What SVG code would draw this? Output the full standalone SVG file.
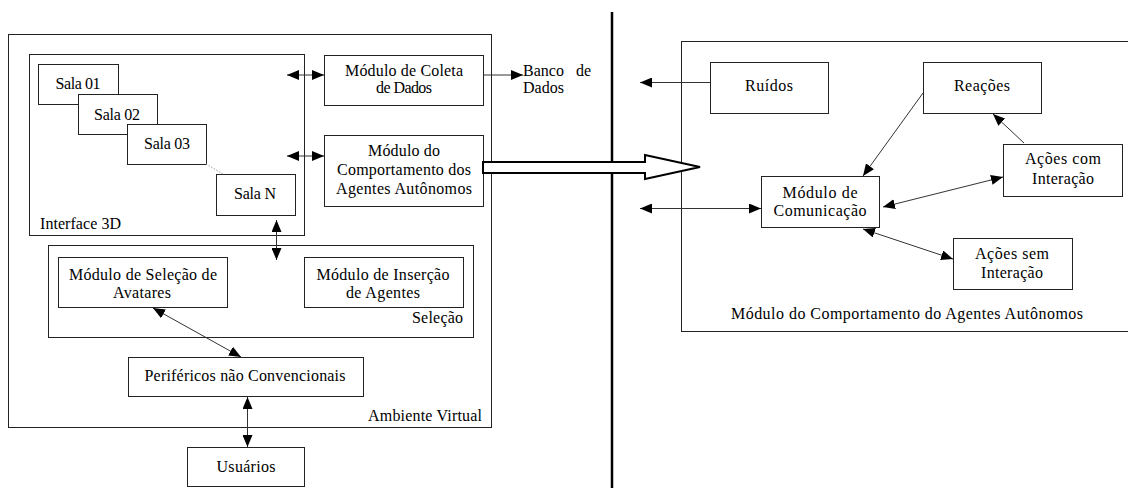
<svg xmlns="http://www.w3.org/2000/svg" width="1128" height="488" viewBox="0 0 1128 488" font-family="'Liberation Serif', 'DejaVu Serif', serif" font-size="16">
  <style>
    .box { fill: #fff; stroke: #222; stroke-width: 1; }
    .frame { fill: none; stroke: #222; stroke-width: 1; }
    text { font-family: 'Liberation Serif', 'DejaVu Serif', serif; font-size: 16px; fill: #000; }
    .c { text-anchor: middle; }
    .r { text-anchor: end; }
    .link { fill: none; stroke: #333; stroke-width: 1; }
  </style>
  <defs>
    <marker id="ah" viewBox="0 0 12 10" refX="12" refY="5" markerWidth="12" markerHeight="10" orient="auto-start-reverse" markerUnits="userSpaceOnUse">
      <path d="M0,0 L12,5 L0,10 z" fill="#000"/>
    </marker>
  </defs>
  <rect width="1128" height="488" fill="#fff"/>

  <!-- left side: virtual environment -->
  <g id="ambiente-virtual">
    <rect class="frame" x="8.5" y="34.5" width="483" height="393"/>
    <text class="r" x="482" y="421" textLength="114">Ambiente Virtual</text>
  </g>
  <g id="interface-3d">
    <rect class="frame" x="29.5" y="54.5" width="275" height="181"/>
    <text x="40" y="229" textLength="81">Interface 3D</text>
  </g>
  <g id="sala-01">
    <rect class="box" x="38.5" y="64.5" width="80" height="40"/>
    <text class="c" x="78" y="89" textLength="45">Sala 01</text>
  </g>
  <g id="sala-02">
    <rect class="box" x="78.5" y="94.5" width="79" height="40"/>
    <text class="c" x="117" y="120" textLength="46">Sala 02</text>
  </g>
  <g id="sala-03">
    <rect class="box" x="127.5" y="124.5" width="79" height="40"/>
    <text class="c" x="167" y="149" textLength="46">Sala 03</text>
  </g>
  <g id="sala-n">
    <rect class="box" x="216.5" y="174.5" width="79" height="41"/>
    <text class="c" x="255" y="199" textLength="42">Sala N</text>
  </g>
  <g id="modulo-coleta">
    <rect class="box" x="324.5" y="55.5" width="159" height="50"/>
    <text class="c" x="404" y="76" textLength="118">Módulo de Coleta</text>
    <text class="c" x="404" y="93" textLength="56">de Dados</text>
  </g>
  <g id="banco-de-dados">
    <text x="523" y="76">Banco</text>
    <text x="576" y="76">de</text>
    <text x="523" y="93">Dados</text>
  </g>
  <g id="modulo-comportamento">
    <rect class="box" x="324.5" y="135.5" width="159" height="71"/>
    <text class="c" x="404" y="156" textLength="72">Módulo do</text>
    <text class="c" x="404" y="175" textLength="134">Comportamento dos</text>
    <text class="c" x="404" y="194" textLength="136">Agentes Autônomos</text>
  </g>
  <g id="selecao">
    <rect class="frame" x="48.5" y="245.5" width="425" height="92"/>
    <text class="r" x="463" y="323" textLength="51">Seleção</text>
  </g>
  <g id="modulo-selecao-avatares">
    <rect class="box" x="58.5" y="257.5" width="169" height="50"/>
    <text class="c" x="143" y="280" textLength="148">Módulo de Seleção de</text>
    <text class="c" x="142" y="298" textLength="58">Avatares</text>
  </g>
  <g id="modulo-insercao-agentes">
    <rect class="box" x="304.5" y="257.5" width="159" height="50"/>
    <text class="c" x="383" y="280" textLength="133">Módulo de Inserção</text>
    <text class="c" x="383" y="298" textLength="74">de Agentes</text>
  </g>
  <g id="perifericos">
    <rect class="box" x="128.5" y="357.5" width="235" height="39"/>
    <text class="c" x="245" y="381" textLength="201">Periféricos não Convencionais</text>
  </g>
  <g id="usuarios">
    <rect class="box" x="187.5" y="447.5" width="117" height="39"/>
    <text class="c" x="246" y="472" textLength="59">Usuários</text>
  </g>

  <!-- right side: agent behaviour module -->
  <g id="comportamento-agentes">
    <rect class="frame" x="681.5" y="41.5" width="460" height="290"/>
    <text class="c" x="907" y="319" textLength="352">Módulo do Comportamento do Agentes Autônomos</text>
  </g>
  <g id="ruidos">
    <rect class="box" x="710.5" y="62.5" width="118" height="51"/>
    <text class="c" x="769" y="91" textLength="48">Ruídos</text>
  </g>
  <g id="reacoes">
    <rect class="box" x="923.5" y="62.5" width="118" height="51"/>
    <text class="c" x="982" y="91" textLength="56">Reações</text>
  </g>
  <g id="acoes-com-interacao">
    <rect class="box" x="1003.5" y="144.5" width="119" height="52"/>
    <text class="c" x="1063" y="164" textLength="76">Ações com</text>
    <text class="c" x="1063" y="184" textLength="62">Interação</text>
  </g>
  <g id="modulo-comunicacao">
    <rect class="box" x="761.5" y="176.5" width="118" height="51"/>
    <text class="c" x="820" y="198" textLength="75">Módulo de</text>
    <text class="c" x="820" y="216" textLength="93">Comunicação</text>
  </g>
  <g id="acoes-sem-interacao">
    <rect class="box" x="953.5" y="238.5" width="119" height="51"/>
    <text class="c" x="1012" y="259" textLength="74">Ações sem</text>
    <text class="c" x="1012" y="278" textLength="62">Interação</text>
  </g>

  <!-- connectors -->
  <g id="connectors">
    <line x1="206" y1="164" x2="223" y2="174" stroke="#999" stroke-width="1" stroke-dasharray="1.5 1.5"/>
    <line class="link" x1="287" y1="75" x2="324" y2="75" marker-start="url(#ah)" marker-end="url(#ah)"/>
    <line class="link" x1="287" y1="156" x2="324" y2="156" marker-start="url(#ah)" marker-end="url(#ah)"/>
    <line class="link" x1="484" y1="75" x2="523" y2="75" marker-end="url(#ah)"/>
    <line class="link" x1="276.5" y1="220" x2="276.5" y2="260" marker-start="url(#ah)" marker-end="url(#ah)"/>
    <line class="link" x1="153" y1="308" x2="241" y2="357" marker-start="url(#ah)" marker-end="url(#ah)"/>
    <line class="link" x1="247.5" y1="397" x2="247.5" y2="447" marker-start="url(#ah)" marker-end="url(#ah)"/>

    <line class="link" x1="710" y1="82.5" x2="640" y2="82.5" marker-end="url(#ah)"/>
    <line class="link" x1="640" y1="208.5" x2="761" y2="208.5" marker-start="url(#ah)" marker-end="url(#ah)"/>
    <line class="link" x1="923" y1="93" x2="863" y2="176" marker-end="url(#ah)"/>
    <line class="link" x1="1024" y1="143" x2="993" y2="114" marker-end="url(#ah)"/>
    <line class="link" x1="883" y1="207" x2="1003" y2="177" marker-start="url(#ah)" marker-end="url(#ah)"/>
    <line class="link" x1="863" y1="229" x2="953" y2="259" marker-start="url(#ah)" marker-end="url(#ah)"/>

    <!-- divider between the two halves -->
    <line x1="612" y1="12" x2="612" y2="488" stroke="#000" stroke-width="2.5"/>

    <!-- hollow block arrow into the behaviour module -->
    <polygon points="483,162 645,162 645,155 700,167 645,179 645,173 483,173" fill="#fff" stroke="#000" stroke-width="2" stroke-linejoin="miter"/>
  </g>
</svg>
